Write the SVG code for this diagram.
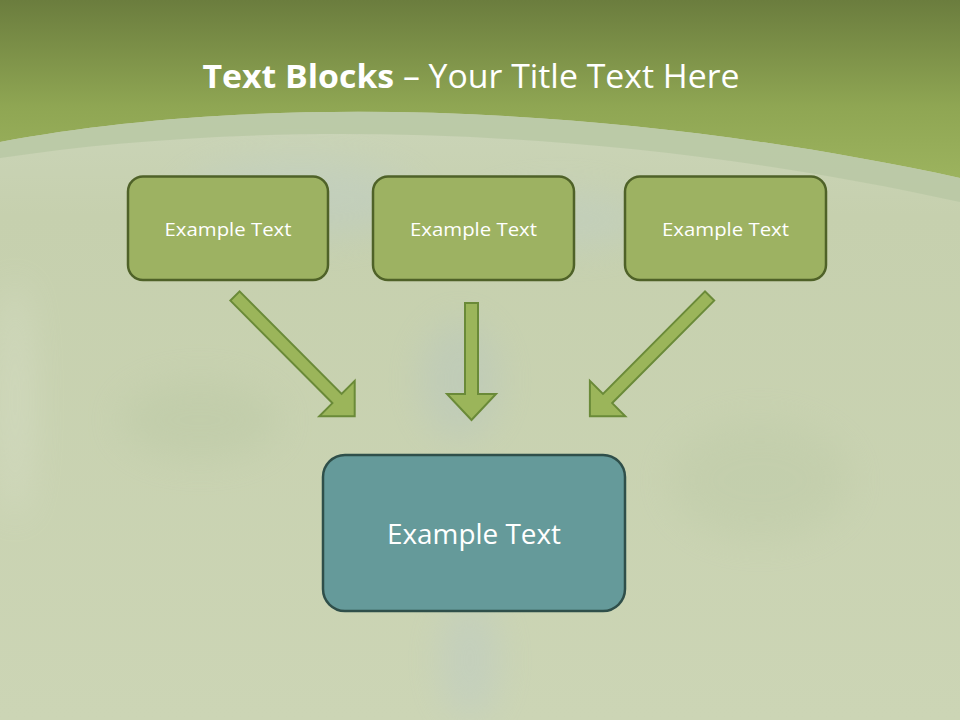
<svg xmlns="http://www.w3.org/2000/svg" width="960" height="720" viewBox="0 0 960 720">
<defs>
<linearGradient id="hdr" x1="0" y1="0" x2="0" y2="1">
<stop offset="0" stop-color="#6b7d3e"/>
<stop offset="0.6" stop-color="#8fa653"/>
<stop offset="1" stop-color="#9cb35e"/>
</linearGradient>
<linearGradient id="bg" x1="0" y1="0" x2="0" y2="1">
<stop offset="0" stop-color="#d0dac4"/>
<stop offset="0.3" stop-color="#c6d0ae"/>
<stop offset="1" stop-color="#ccd5b5"/>
</linearGradient>
<filter id="blur" x="-50%" y="-50%" width="200%" height="200%"><feGaussianBlur stdDeviation="18"/></filter>
<style>
.box{fill:#9db262;stroke:#4f6228;stroke-width:2.5}
.main{fill:#659a9a;stroke:#2f4f4a;stroke-width:2.5}
.arr{fill:#9bb55a;stroke:#6a8a38;stroke-width:2}
.lbl{font-family:"Open Sans","DejaVu Sans",sans-serif;fill:#ffffff;text-anchor:middle}
</style>
</defs>
<rect width="960" height="720" fill="url(#bg)"/>
<g filter="url(#blur)" opacity="0.3">
<ellipse cx="300" cy="200" rx="120" ry="40" fill="#b9cbd6"/>
<ellipse cx="560" cy="220" rx="90" ry="30" fill="#bccdd6"/>
<ellipse cx="460" cy="380" rx="40" ry="60" fill="#aebfc8"/>
<ellipse cx="470" cy="660" rx="30" ry="60" fill="#b3c4d0"/>
<ellipse cx="200" cy="420" rx="80" ry="40" fill="#b4c39e"/>
<ellipse cx="760" cy="480" rx="90" ry="60" fill="#b8c6a2"/>
<ellipse cx="15" cy="400" rx="15" ry="120" fill="#e8ece0"/>
</g>
<path d="M0,0 H960 V178 C600,100 250,95 0,142 Z" fill="url(#hdr)"/>
<path d="M0,142 C250,95 600,100 960,178 V202 C600,122 250,120 0,158 Z" fill="#b9c8a4" opacity="0.85"/>
<text x="471" y="88" font-family="Open Sans, DejaVu Sans, sans-serif" font-size="33" fill="#ffffff" textLength="537" lengthAdjust="spacingAndGlyphs" text-anchor="middle"><tspan font-weight="bold">Text Blocks</tspan> – Your Title Text Here</text>
<g id="connectors">
<polygon class="arr" points="239.6,291.4 341.6,393.9 354.7,380.8 354.7,416.2 319.3,416.2 332.4,403.1 230.4,300.6"/>
<polygon class="arr" points="465,303 478,303 478,394 496,394 471.5,420 447,394 465,394"/>
<polygon class="arr" points="705,291.4 603,393.9 589.9,380.8 589.9,416.2 625.3,416.2 612.2,403.1 714.2,300.6"/>
</g>
<g id="box1">
<rect class="box" x="128" y="176.5" width="200" height="103.5" rx="15"/>
<text class="lbl" x="228" y="236" font-size="19" textLength="127" lengthAdjust="spacingAndGlyphs">Example Text</text>
</g>
<g id="box2">
<rect class="box" x="373" y="176.5" width="201" height="103.5" rx="15"/>
<text class="lbl" x="473.5" y="236" font-size="19" textLength="127" lengthAdjust="spacingAndGlyphs">Example Text</text>
</g>
<g id="box3">
<rect class="box" x="625" y="176.5" width="201" height="103.5" rx="15"/>
<text class="lbl" x="725.5" y="236" font-size="19" textLength="127" lengthAdjust="spacingAndGlyphs">Example Text</text>
</g>
<g id="main">
<rect class="main" x="323" y="455" width="302" height="156" rx="22"/>
<text class="lbl" x="474" y="544" font-size="28" textLength="174" lengthAdjust="spacingAndGlyphs">Example Text</text>
</g>
</svg>
